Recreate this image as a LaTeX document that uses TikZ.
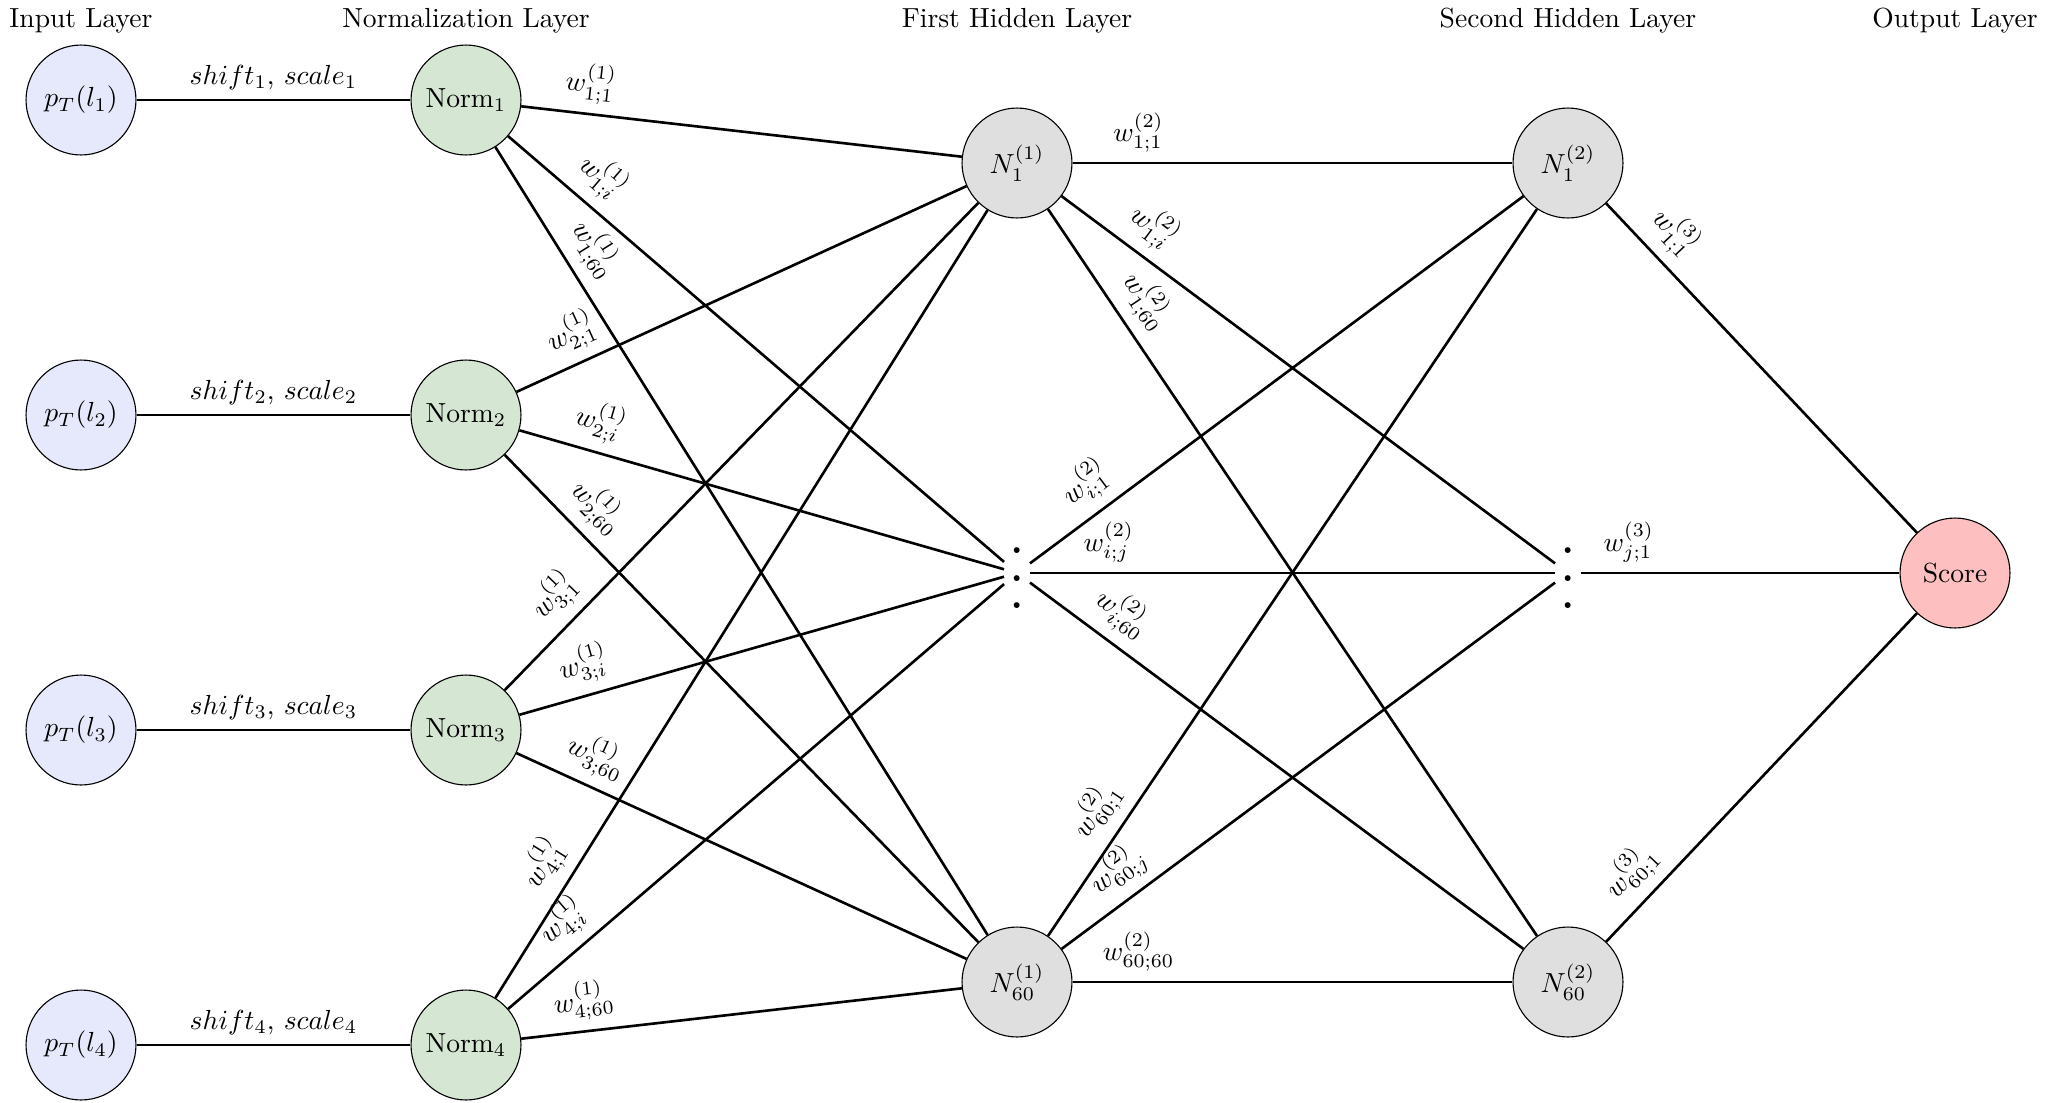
\documentclass[tikz,border=0pt]{standalone}
\usepackage{graphicx}
\definecolor{inblue}{HTML}{E6E8FB}
\definecolor{normgreen}{HTML}{D5E6D3}
\definecolor{hidgray}{HTML}{DFDFDF}
\definecolor{scorered}{HTML}{FDBFBF}
\newcommand{\bdot}[1]{\makebox[0pt]{\raisebox{#1}{\scalebox{2}{.}}}}
\newcommand{\bigvdots}{\smash{\bdot{7.2pt}\bdot{-2.9pt}\bdot{-13pt}}}
\begin{document}
\begin{tikzpicture}[x=0.3623pt,y=-0.3623pt,
  neuron/.style={circle,draw,minimum size=1.4cm,inner sep=0pt},
  innode/.style={neuron,fill=inblue},
  normnode/.style={neuron,fill=normgreen},
  hidnode/.style={neuron,fill=hidgray},
  scorenode/.style={neuron,fill=scorered},
  dotsnode/.style={rectangle,inner sep=0pt,minimum width=9pt,minimum height=22pt},
  conn/.style={line width=0.95pt},
  wlab/.style={pos=0.15,sloped,above},
  layertitle/.style={inner sep=0pt}]
\useasboundingbox (0,0) rectangle (2048,1102);

% layer titles
\node[layertitle] (t1) at (81,21) {Input Layer};
\node[layertitle] (t2) at (466,21) {Normalization Layer};
\node[layertitle] (t3) at (1017,21) {First Hidden Layer};
\node[layertitle] (t4) at (1568,21) {Second Hidden Layer};
\node[layertitle] (t5) at (1955,21) {Output Layer};

% input nodes
\node[innode] (i1) at (81,100) {$p_T(l_1)$};
\node[innode] (i2) at (81,415) {$p_T(l_2)$};
\node[innode] (i3) at (81,730) {$p_T(l_3)$};
\node[innode] (i4) at (81,1045) {$p_T(l_4)$};

% normalization nodes
\node[normnode] (n1) at (466,100) {Norm$_1$};
\node[normnode] (n2) at (466,415) {Norm$_2$};
\node[normnode] (n3) at (466,730) {Norm$_3$};
\node[normnode] (n4) at (466,1045) {Norm$_4$};

% first hidden layer
\node[hidnode] (h1) at (1017,163) {$N_1^{(1)}$};
\node[dotsnode] (hd) at (1017,573) {\bigvdots};
\node[hidnode] (h60) at (1017,982) {$N_{60}^{(1)}$};

% second hidden layer
\node[hidnode] (g1) at (1568,163) {$N_1^{(2)}$};
\node[dotsnode] (gd) at (1568,573) {\bigvdots};
\node[hidnode] (g60) at (1568,982) {$N_{60}^{(2)}$};

% output
\node[scorenode] (s) at (1955,573) {Score};

% input -> norm
\foreach \k in {1,2,3,4}{
  \draw[conn] (i\k) -- node[midway,above] {$shift_\k$, $scale_\k$} (n\k);
}

% norm -> first hidden
\foreach \k in {1,2,3,4}{
  \draw[conn] (n\k) -- node[wlab] {$w_{\k;1}^{(1)}$} (h1);
  \draw[conn] (n\k) -- node[wlab] {$w_{\k;i}^{(1)}$} (hd);
  \draw[conn] (n\k) -- node[wlab] {$w_{\k;60}^{(1)}$} (h60);
}

% first hidden -> second hidden
\draw[conn] (h1) -- node[wlab] {$w_{1;1}^{(2)}$} (g1);
\draw[conn] (h1) -- node[wlab] {$w_{1;i}^{(2)}$} (gd);
\draw[conn] (h1) -- node[wlab] {$w_{1;60}^{(2)}$} (g60);
\draw[conn] (hd) -- node[wlab] {$w_{i;1}^{(2)}$} (g1);
\draw[conn] (hd) -- node[wlab] {$w_{i;j}^{(2)}$} (gd);
\draw[conn] (hd) -- node[wlab] {$w_{i;60}^{(2)}$} (g60);
\draw[conn] (h60) -- node[wlab] {$w_{60;1}^{(2)}$} (g1);
\draw[conn] (h60) -- node[wlab] {$w_{60;j}^{(2)}$} (gd);
\draw[conn] (h60) -- node[wlab] {$w_{60;60}^{(2)}$} (g60);

% second hidden -> output
\draw[conn] (g1) -- node[wlab] {$w_{1;1}^{(3)}$} (s);
\draw[conn] (gd) -- node[wlab] {$w_{j;1}^{(3)}$} (s);
\draw[conn] (g60) -- node[wlab] {$w_{60;1}^{(3)}$} (s);
\end{tikzpicture}
\end{document}
